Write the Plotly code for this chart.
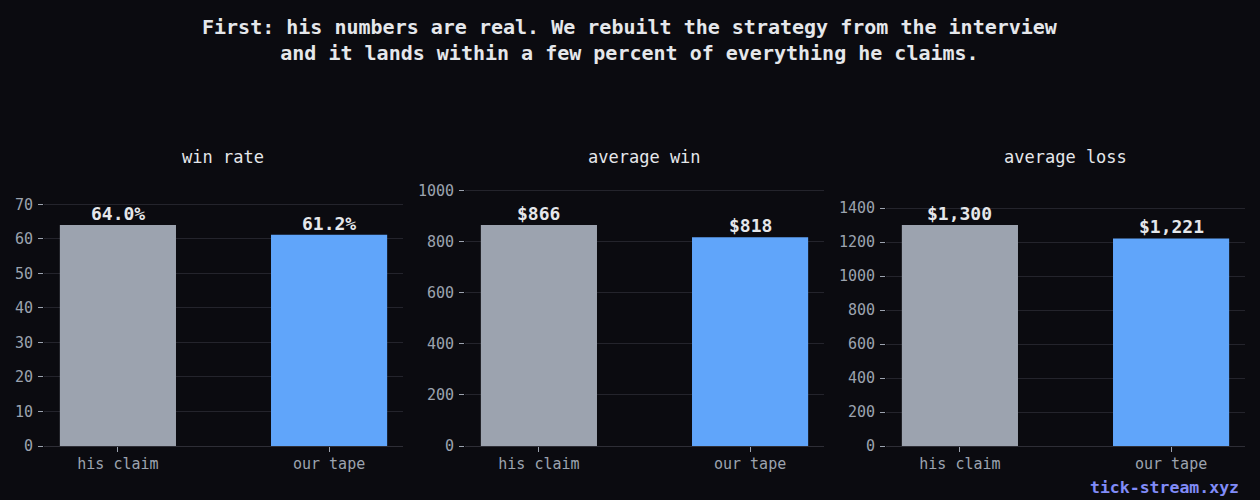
import plotly.graph_objects as go

# values
categories = ["his claim", "our tape"]
panel_titles = ["win rate", "average win", "average loss"]
win_rate = [64.0, 61.2]
avg_win = [866, 818]
avg_loss = [1300, 1221]
win_rate_labels = ["64.0%", "61.2%"]
avg_win_labels = ["$866", "$818"]
avg_loss_labels = ["$1,300", "$1,221"]
ytick_sets = [
    [0, 10, 20, 30, 40, 50, 60, 70],
    [0, 200, 400, 600, 800, 1000],
    [0, 200, 400, 600, 800, 1000, 1200, 1400],
]

BG = "#0b0b10"
GRID = "#24242c"
TICK = "#9ca3af"
TEXT = "#e5e7eb"
FONT = "DejaVu Sans Mono"
bar_colors = ["#9ca3af", "#60a5fa"]

W, H = 1260, 500
x_px = [(44, 403), (465, 824), (886, 1245)]
y_top = 188
y_dom = [(500 - 446) / H, (500 - y_top) / H]

series = [win_rate, avg_win, avg_loss]
labels = [win_rate_labels, avg_win_labels, avg_loss_labels]

fig = go.Figure()
layout_axes = {}
for i, (vals, labs) in enumerate(zip(series, labels)):
    n = "" if i == 0 else str(i + 1)
    fig.add_trace(go.Bar(
        x=[0, 1], y=vals, width=0.55,
        marker=dict(color=bar_colors, line=dict(width=0)),
        xaxis="x" + n, yaxis="y" + n, showlegend=False, hoverinfo="skip",
    ))
    # value labels just above each bar
    for xv, yv, lab in zip([0, 1], vals, labs):
        fig.add_annotation(
            x=xv, y=yv, xref="x" + n, yref="y" + n, text=lab,
            showarrow=False, xanchor="center", yanchor="bottom", yshift=-1,
            font=dict(family=FONT, size=18, color=TEXT, weight="bold"),
        )
    dom = [x_px[i][0] / W, x_px[i][1] / W]
    layout_axes["xaxis" + n] = dict(
        domain=dom, range=[-0.35, 1.35], tickvals=[0, 1], ticktext=categories,
        showgrid=False, zeroline=False, showline=True, linecolor="#2e2e36",
        ticks="outside", ticklen=5, tickcolor=TICK, automargin=False,
        ticklabelstandoff=-1,
        tickfont=dict(family=FONT, size=15, color=TICK), anchor="y" + n,
    )
    layout_axes["yaxis" + n] = dict(
        domain=y_dom, range=[0, max(vals) * (446 - y_top) / 221],
        tickvals=ytick_sets[i], automargin=False,
        showgrid=True, gridcolor=GRID, gridwidth=1, zeroline=False,
        showline=False, ticks="outside", ticklen=5, tickcolor=TICK,
        ticklabelstandoff=2,
        tickfont=dict(family=FONT, size=15, color=TICK), anchor="x" + n,
    )
    fig.add_annotation(
        text=panel_titles[i], xref="paper", yref="paper",
        x=(dom[0] + dom[1]) / 2, y=(500 - 157) / H, showarrow=False,
        font=dict(family=FONT, size=17, color=TEXT),
        xanchor="center", yanchor="middle",
    )

fig.add_annotation(
    text="First: his numbers are real. We rebuilt the strategy from the interview"
         "<br>and it lands within a few percent of everything he claims.",
    xref="paper", yref="paper", x=0.5, y=(500 - 40) / H, showarrow=False,
    font=dict(family=FONT, size=20, color=TEXT, weight="bold"),
    xanchor="center", yanchor="middle", align="center",
)
fig.add_annotation(
    text="tick-stream.xyz", xref="paper", yref="paper",
    x=1241 / W, y=(500 - 487) / H, showarrow=False,
    font=dict(family=FONT, size=16.5, color="#818cf8", weight="bold"),
    xanchor="right", yanchor="middle",
)

fig.update_layout(
    width=W, height=H, paper_bgcolor=BG, plot_bgcolor=BG,
    margin=dict(l=0, r=0, t=0, b=0, autoexpand=False), bargap=0.45,
    **layout_axes,
)
fig.write_html(
    "out.html",
    config={"displayModeBar": False},
    post_script="document.body.style.margin='0';"
                "document.body.style.background='#0b0b10';",
)
